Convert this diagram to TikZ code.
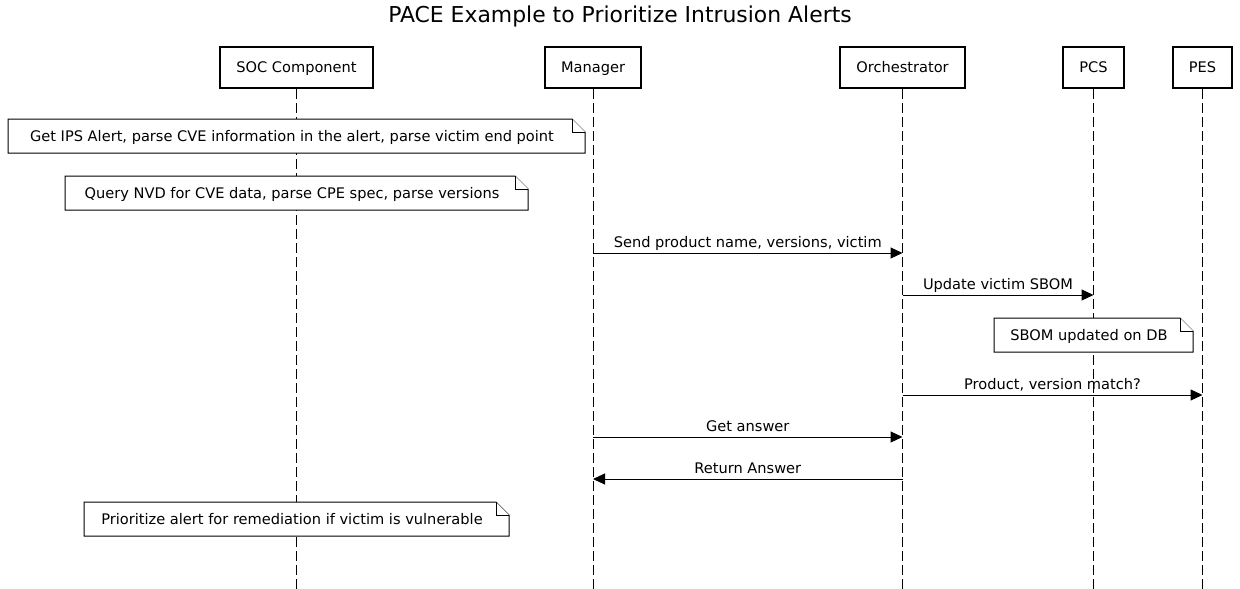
\documentclass[tikz,border=0pt]{standalone}
\usepackage{fontspec}
\setmainfont{DejaVu Sans}
\usetikzlibrary{arrows.meta}
\newcommand\lblfont{\fontsize{14.6}{17}\selectfont}
\newcommand\ttlfont{\fontsize{21.9}{26}\selectfont}
\newcommand\pnote[6]{%
  \draw[notebox] (#2,#3) -- ({#4-13},#3) -- (#4,{#3+13}) -- (#4,#5) -- (#2,#5) -- cycle;
  \draw[notebox] ({#4-13},#3) -- ({#4-13},{#3+13}) -- (#4,{#3+13});
  \node[lbl] (#1) at ({(#2+#4-9)/2},{(#3+#5)/2+1.5}) {#6};}
\begin{document}
\begin{tikzpicture}[x=1pt,y=-1pt,
  lbl/.style={font=\lblfont,inner sep=0pt,text height=0.73em,text depth=0pt},
  part/.style={draw,line width=2pt,minimum height=41pt,inner sep=0pt,font=\lblfont},
  ptext/.style={font=\lblfont,inner sep=0pt,text height=0.73em,text depth=0pt},
  life/.style={line width=1pt,dash pattern=on 10pt off 4pt},
  notebox/.style={line width=1pt,fill=white},
  msg/.style={line width=1pt,-{Triangle[length=12pt,width=11pt]}},
  mlbl/.style={font=\lblfont,inner sep=0pt,anchor=base}]
\useasboundingbox[fill=white] (0,0) rectangle (1240,589);
\node[font=\ttlfont,inner sep=0pt,text height=0.73em,text depth=0pt] (title) at (620,19) {PACE Example to Prioritize Intrusion Alerts};
% participants
\node[part,minimum width=153pt] (soc) at (296.5,67.5) {};
\node[part,minimum width=96pt] (man) at (593,67.5) {};
\node[part,minimum width=125pt] (orc) at (902.5,67.5) {};
\node[part,minimum width=61pt] (pcs) at (1093.5,67.5) {};
\node[part,minimum width=59pt] (pes) at (1202.5,67.5) {};
\node[ptext] (socT) at ([yshift=-1.5pt]soc.center) {SOC Component};
\node[ptext] (manT) at ([yshift=-1.5pt]man.center) {Manager};
\node[ptext] (orcT) at ([yshift=-1.5pt]orc.center) {Orchestrator};
\node[ptext] (pcsT) at ([yshift=-1.5pt]pcs.center) {PCS};
\node[ptext] (pesT) at ([yshift=-1.5pt]pes.center) {PES};
% lifeline ends
\coordinate (socE) at (296.5,589);
\coordinate (manE) at (593,589);
\coordinate (orcE) at (902.5,589);
\coordinate (pcsE) at (1093.5,589);
\coordinate (pesE) at (1202.5,589);
\draw[life] (soc.south) -- (socE);
\draw[life] (man.south) -- (manE);
\draw[life] (orc.south) -- (orcE);
\draw[life] (pcs.south) -- (pcsE);
\draw[life] (pes.south) -- (pesE);
% notes
\pnote{n1}{8}{119}{585}{153}{Get IPS Alert, parse CVE information in the alert, parse victim end point}
\pnote{n2}{65}{176}{528}{210}{Query NVD for CVE data, parse CPE spec, parse versions}
\pnote{n3}{994}{318}{1193}{352}{SBOM updated on DB}
\pnote{n4}{84}{502}{509}{536}{Prioritize alert for remediation if victim is vulnerable}
% message anchor points
\coordinate (m1s) at (593,253);  \coordinate (m1e) at (902.5,253);
\coordinate (m2s) at (902.5,295); \coordinate (m2e) at (1093.5,295);
\coordinate (m3s) at (902.5,395); \coordinate (m3e) at (1202.5,395);
\coordinate (m4s) at (593,437);  \coordinate (m4e) at (902.5,437);
\coordinate (m5s) at (902.5,479); \coordinate (m5e) at (593,479);
\draw[msg] (m1s) -- (m1e) node[mlbl,pos=0.5,yshift=5.7pt] (l1) {Send product name, versions, victim};
\draw[msg] (m2s) -- (m2e) node[mlbl,pos=0.5,yshift=5.7pt] (l2) {Update victim SBOM};
\draw[msg] (m3s) -- (m3e) node[mlbl,pos=0.5,yshift=5.7pt] (l3) {Product, version match?};
\draw[msg] (m4s) -- (m4e) node[mlbl,pos=0.5,yshift=5.7pt] (l4) {Get answer};
\draw[msg] (m5s) -- (m5e) node[mlbl,pos=0.5,yshift=5.7pt] (l5) {Return Answer};
\end{tikzpicture}
\end{document}
